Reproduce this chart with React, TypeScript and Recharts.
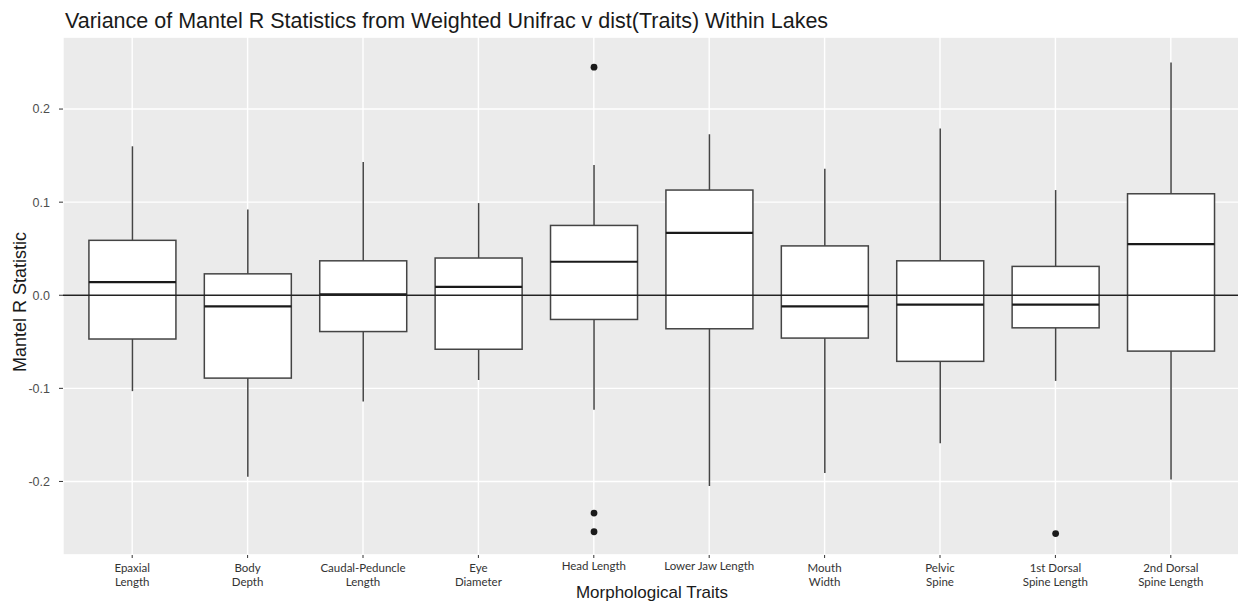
import { ComposedChart, Bar, XAxis, YAxis, CartesianGrid, ReferenceLine } from "recharts";

const traits = [
  "Epaxial Length",
  "Body Depth",
  "Caudal-Peduncle Length",
  "Eye Diameter",
  "Head Length",
  "Lower Jaw Length",
  "Mouth Width",
  "Pelvic Spine",
  "1st Dorsal Spine Length",
  "2nd Dorsal Spine Length",
];

// how each tick label is broken over lines
const tickLines = [
  ["Epaxial", "Length"],
  ["Body", "Depth"],
  ["Caudal-Peduncle", "Length"],
  ["Eye", "Diameter"],
  ["Head Length"],
  ["Lower Jaw Length"],
  ["Mouth", "Width"],
  ["Pelvic", "Spine"],
  ["1st Dorsal", "Spine Length"],
  ["2nd Dorsal", "Spine Length"],
];

const whiskerLow = [-0.103, -0.195, -0.114, -0.091, -0.123, -0.205, -0.191, -0.159, -0.092, -0.198];
const lowerQuartile = [-0.047, -0.089, -0.039, -0.058, -0.026, -0.036, -0.046, -0.071, -0.035, -0.06];
const medians = [0.014, -0.012, 0.001, 0.009, 0.036, 0.067, -0.012, -0.01, -0.01, 0.055];
const upperQuartile = [0.059, 0.023, 0.037, 0.04, 0.075, 0.113, 0.053, 0.037, 0.031, 0.109];
const whiskerHigh = [0.16, 0.092, 0.143, 0.099, 0.14, 0.173, 0.136, 0.179, 0.113, 0.25];
const outliers = [[], [], [], [], [0.245, -0.234, -0.254], [], [], [], [-0.256], []];

const majorTicks = [-0.2, -0.1, 0, 0.1, 0.2];
const minorTicks = [-0.25, -0.15, -0.05, 0.05, 0.15, 0.25];
const yDomain = [-0.279, 0.2774];

const rows = traits.map((trait, i) => ({
  trait,
  lo: whiskerLow[i],
  q1: lowerQuartile[i],
  med: medians[i],
  q3: upperQuartile[i],
  hi: whiskerHigh[i],
  out: outliers[i],
}));

// the bar is the q1..q3 range; whiskers, median and outliers use the same scale
function BoxShape(props: any) {
  const { x, y, width, height, payload } = props;
  const ppu = height / (payload.q3 - payload.q1);
  const py = (v: number) => y + (payload.q3 - v) * ppu;
  const cx = x + width / 2;
  return (
    <g>
      <line x1={cx} x2={cx} y1={py(payload.hi)} y2={py(payload.lo)} stroke="#444" strokeWidth={1.5} />
      <rect x={x} y={y} width={width} height={height} fill="#fff" stroke="#444" strokeWidth={1.5} />
      <line x1={x} x2={x + width} y1={py(payload.med)} y2={py(payload.med)} stroke="#1a1a1a" strokeWidth={2.2} />
      {payload.out.map((v: number, i: number) => (
        <circle key={i} cx={cx} cy={py(v)} r={3.4} fill="#1a1a1a" />
      ))}
    </g>
  );
}

function XTick({ x, y, payload }: any) {
  const lines = tickLines[payload.index];
  return (
    <text x={x} y={y} textAnchor="middle" fill="#333" fontFamily="Lato" fontSize={11.5}>
      {lines.map((l, i) => (
        <tspan key={i} x={x} dy={i === 0 ? (lines.length > 1 ? 12 : 10) : 14}>
          {l}
        </tspan>
      ))}
    </text>
  );
}

export default function App() {
  return (
    <div style={{ position: "absolute", left: 0, top: 0, width: 1238, height: 603, background: "#fff", fontFamily: "'Liberation Sans', Arial, sans-serif" }}>
      <ComposedChart width={1238} height={603} data={rows} margin={{ top: 37, right: -2, left: 0, bottom: 0 }} barCategoryGap="12.5%">
        <CartesianGrid fill="#EBEBEB" stroke="#fff" strokeWidth={0.7} vertical={false} yAxisId="minor" />
        <CartesianGrid stroke="#fff" strokeWidth={1.4} />
        <XAxis
          dataKey="trait"
          height={48}
          padding={{ left: 11.5, right: 11.5 }}
          axisLine={false}
          tickSize={3}
          tickLine={{ stroke: "#333" }}
          tick={<XTick />}
          interval={0}
        />
        <YAxis
          width={63}
          domain={yDomain}
          ticks={majorTicks}
          tickFormatter={(v: number) => v.toFixed(1)}
          axisLine={false}
          tickSize={4}
          tickMargin={9}
          tickLine={{ stroke: "#333" }}
          tick={{ fill: "#4d4d4d", fontSize: 12.5 }}
        />
        <YAxis yAxisId="minor" orientation="right" width={0} domain={yDomain} ticks={minorTicks} axisLine={false} tickLine={false} tick={false} />
        <Bar dataKey={(d: any) => [d.q1, d.q3]} shape={<BoxShape />} isAnimationActive={false} />
        <ReferenceLine y={0} stroke="#222" strokeWidth={1.4} />
      </ComposedChart>
      <div style={{ position: "absolute", left: 65, top: 9, fontSize: 21.5, color: "#1a1a1a", whiteSpace: "nowrap" }}>
        Variance of Mantel R Statistics from Weighted Unifrac v dist(Traits) Within Lakes
      </div>
      <div style={{ position: "absolute", left: 20, top: 302, transform: "translate(-50%, -50%) rotate(-90deg)", fontSize: 18, color: "#1a1a1a", whiteSpace: "nowrap" }}>
        Mantel R Statistic
      </div>
      <div style={{ position: "absolute", left: 652, top: 593, transform: "translate(-50%, -50%)", fontSize: 17, color: "#1a1a1a", whiteSpace: "nowrap" }}>
        Morphological Traits
      </div>
    </div>
  );
}
